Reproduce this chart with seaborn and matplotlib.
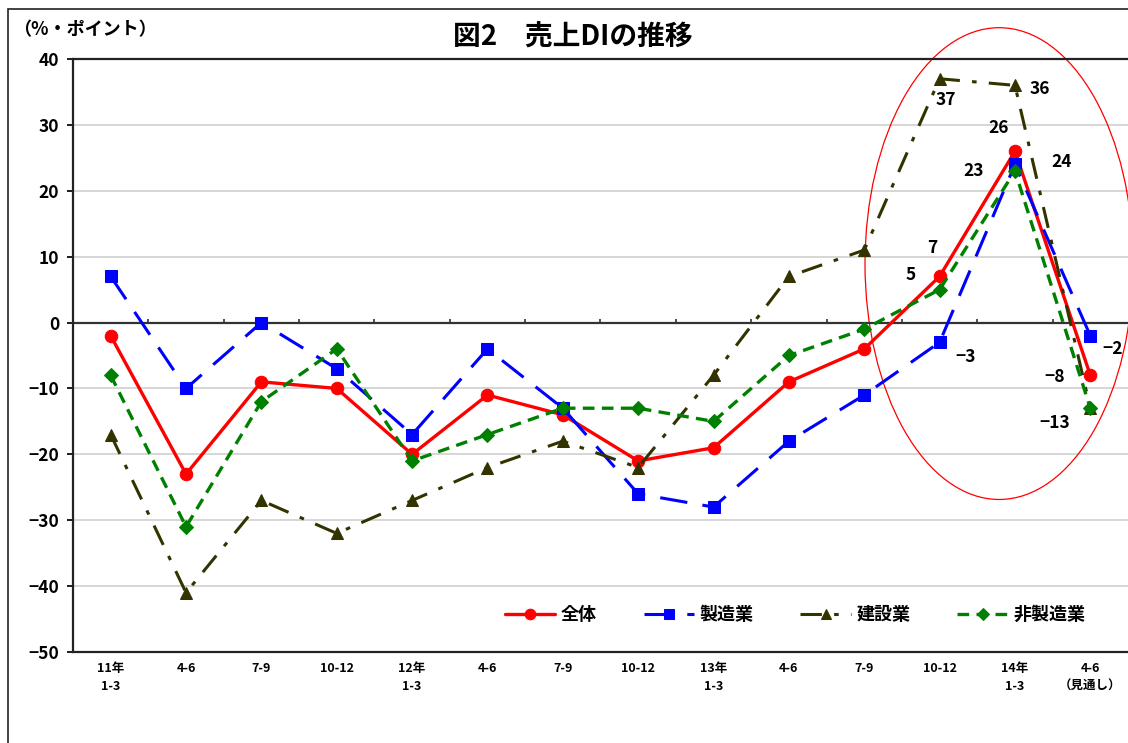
import numpy as np
import pandas as pd
import matplotlib
matplotlib.use("Agg")
import matplotlib.pyplot as plt
from matplotlib.patches import Ellipse, Rectangle
import seaborn as sns

# ── DATA ───────────────────────────────────────────────────────
quarters = ["11年\n1-3", "4-6", "7-9", "10-12", "12年\n1-3", "4-6", "7-9",
            "10-12", "13年\n1-3", "4-6", "7-9", "10-12", "14年\n1-3", "4-6\n（見通し）"]
zentai   = [-2, -23, -9, -10, -20, -11, -14, -21, -19, -9, -4, 7, 26, -8]
seizo    = [7, -10, 0, -7, -17, -4, -13, -26, -28, -18, -11, -3, 24, -2]
kensetsu = [-17, -41, -27, -32, -27, -22, -18, -22, -8, 7, 11, 37, 36, -13]
hiseizo  = [-8, -31, -12, -4, -21, -17, -13, -13, -15, -5, -1, 5, 23, -13]

# ── STYLE ──────────────────────────────────────────────────────
sns.set_theme(style="white")
plt.rcParams["font.family"] = ["Noto Sans CJK JP", "DejaVu Sans"]
plt.rcParams.update({"font.weight": "bold", "text.color": "black",
                     "xtick.color": "black", "ytick.color": "black"})

fig = plt.figure(figsize=(11.28, 7.43), dpi=100)
ax = fig.add_axes([73/1128, 1-652/743, 1055/1128, (652-59)/743])

xpos = np.arange(len(quarters))
series = [
    ("全体",     zentai,   "#FF0000", "o", "-",                 2.4, 9),
    ("製造業",   seizo,    "#0000FF", "s", (0, (9, 5)),         2.2, 8),
    ("建設業",   kensetsu, "#333300", "^", (0, (7, 4, 1.5, 4)), 2.2, 8),
    ("非製造業", hiseizo,  "#008000", "D", (0, (3.5, 2.2)),     2.4, 7),
]
for name, vals, c, m, ls, lw, ms in series:
    sns.lineplot(x=xpos, y=vals, ax=ax, color=c, marker=m, linestyle=ls,
                 linewidth=lw, markersize=ms, markeredgecolor=c, label=name)

# grid + zero line
ax.set_ylim(-50, 40)
ax.set_xlim(-0.5, len(quarters) - 0.5)
ax.set_yticks(np.arange(-50, 41, 10))
ax.yaxis.grid(True, color="#d0d0d0", lw=1.2)
ax.set_axisbelow(True)
ax.axhline(0, color="#333333", lw=1.6, zorder=1.5)
ax.vlines(xpos[:-1] + 0.5, 0, 0.6, color="#333333", lw=1.2)

ax.set_xticks(xpos)
ax.set_xticklabels(quarters, fontsize=9, fontweight="bold", linespacing=1.5)
ax.tick_params(axis="x", length=0, pad=7)
ax.tick_params(axis="y", length=4, direction="out", left=True, labelsize=12.5, pad=6)
for t in ax.get_yticklabels():
    t.set_fontweight("bold")
for s in ["left", "top", "bottom"]:
    ax.spines[s].set_color("#222222")
    ax.spines[s].set_linewidth(1.6)
ax.spines["right"].set_visible(False)
ax.set_xlabel(""); ax.set_ylabel("")

# value labels in the highlighted area
notes = [(11, kensetsu, "37", 0.08, -3.2), (12, kensetsu, "36", 0.33, -0.5),
         (12, zentai, "26", -0.22, 3.5), (12, seizo, "24", 0.62, 0.3),
         (12, hiseizo, "23", -0.55, 0.0), (11, zentai, "7", -0.1, 4.3),
         (11, hiseizo, "5", -0.38, 2.2), (11, seizo, "-3", 0.34, -2.3),
         (13, seizo, "-2", 0.3, -2.0), (13, zentai, "-8", -0.47, -0.2),
         (13, hiseizo, "-13", -0.47, -2.2)]
for i, vals, txt, dx, dy in notes:
    ax.text(xpos[i] + dx, vals[i] + dy, txt.replace("-", "−"), ha="center",
            va="center", fontsize=12.5, fontweight="bold")

ax.add_patch(Ellipse((11.79, 8.95), 3.56, 71.6, fill=False, color="#FF0000",
                     lw=0.9, clip_on=False))

leg = ax.legend(loc="lower right", bbox_to_anchor=(0.975, 0.02), ncol=4,
                frameon=False, prop={"weight": "bold", "size": 13},
                handlelength=2.8, columnspacing=2.6, handletextpad=0.3,
                markerscale=0.85)

fig.text(573/1128, 1-38/743, "図2　売上DIの推移", ha="center", va="center",
         fontsize=20, fontweight="bold")
fig.text(13/1128, 1-30/743, "（%・ポイント）", ha="left", va="center",
         fontsize=13, fontweight="bold")
fig.patches.append(Rectangle((8/1128, -0.1), 1.2, 1-9/743 + 0.1,
                             transform=fig.transFigure, fill=False,
                             edgecolor="#222222", lw=1.2))

fig.savefig("out.png", dpi=100)
